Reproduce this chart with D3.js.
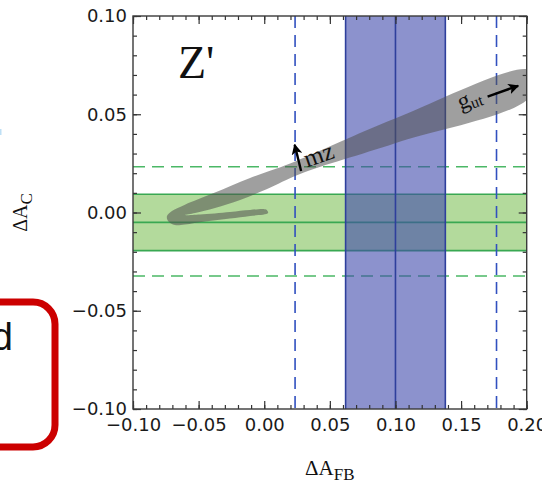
<!DOCTYPE html>
<html>
<head>
<meta charset="utf-8">
<script src="https://cdn.jsdelivr.net/npm/d3@7"></script>
<style>
  html, body { margin: 0; padding: 0; background: #fff; }
  svg { display: block; }
</style>
</head>
<body>
<svg id="chart" width="542" height="485"></svg>
<script>
// Axis ranges and ticks
const xDomain = [-0.10, 0.20];
const yDomain = [-0.10, 0.10];
const xTickValues = [-0.10, -0.05, 0.00, 0.05, 0.10, 0.15, 0.20];
const yTickValues = [-0.10, -0.05, 0.00, 0.05, 0.10];

// Forward-backward asymmetry measurement (vertical bands)
const afbCentral = 0.100;
const afbOneSigma = [0.062, 0.138];
const afbTwoSigma = [0.0235, 0.1770];

// Charge asymmetry measurement (horizontal bands)
const acCentral = -0.0050;
const acOneSigma = [-0.0194, 0.0093];
const acTwoSigma = [-0.0323, 0.0233];

// Z' prediction region: outer boundary (from the low-mass tail, round the turn,
// up along the top of the coupling branch), then inner boundary back to the tail
const zpOuterEdge = [
  [0.0029, -0.0003], [-0.0108, -0.0018], [-0.0261, -0.0031], [-0.0451, -0.0046],
  [-0.0604, -0.0061], [-0.0680, -0.0064], [-0.0733, -0.0043], [-0.0741, -0.0018],
  [-0.0703, 0.0008], [-0.0604, 0.0040], [-0.0390, 0.0098], [-0.0108, 0.0176],
  [0.0197, 0.0250], [0.0997, 0.0479], [0.2027, 0.0723]
];
const zpInnerEdge = [
  [0.2027, 0.0590], [0.0997, 0.0352], [0.0273, 0.0196], [0.0022, 0.0120],
  [-0.0184, 0.0064], [-0.0375, 0.0023], [-0.0527, -0.0003], [-0.0604, -0.0013],
  [-0.0489, -0.0010], [-0.0261, 0.0003], [-0.0108, 0.0013], [0.0014, 0.0015]
];

// Annotation anchors (data units)
const mzArrow = { base: [0.0281, 0.0211], head: [0.0232, 0.0345] };
const mzLabelAt = [0.0275, 0.0217];
const gutLabelAt = [0.1495, 0.0521];
const gutArrow = { base: [0.1702, 0.0590], head: [0.1935, 0.0645] };

const svg = d3.select("#chart");
const pL = 133, pR = 526.7, pT = 16, pB = 409;

const x = d3.scaleLinear().domain(xDomain).range([pL, pR]);
const y = d3.scaleLinear().domain(yDomain).range([pB, pT]);

const defs = svg.append("defs");
defs.append("clipPath").attr("id", "plotClip")
  .append("rect").attr("x", pL).attr("y", pT)
  .attr("width", pR - pL).attr("height", pB - pT);

const plot = svg.append("g").attr("clip-path", "url(#plotClip)");

// --- A_C bands (green)
plot.append("rect")
  .attr("x", pL).attr("width", pR - pL)
  .attr("y", y(acOneSigma[1])).attr("height", y(acOneSigma[0]) - y(acOneSigma[1]))
  .attr("fill", "#b3da9c");
const greenSolid = [acOneSigma[0], acCentral, acOneSigma[1]];
plot.selectAll("line.gs").data(greenSolid).join("line").attr("class", "gs")
  .attr("x1", pL).attr("x2", pR)
  .attr("y1", d => y(d)).attr("y2", d => y(d))
  .attr("stroke", "#39a852").attr("stroke-width", 1.6);
plot.selectAll("line.gd").data(acTwoSigma).join("line").attr("class", "gd")
  .attr("x1", pL).attr("x2", pR)
  .attr("y1", d => y(d)).attr("y2", d => y(d))
  .attr("stroke", "#4bb866").attr("stroke-width", 1.5)
  .attr("stroke-dasharray", "12,7");

// --- A_FB bands (blue)
plot.append("rect")
  .attr("x", x(afbOneSigma[0])).attr("width", x(afbOneSigma[1]) - x(afbOneSigma[0]))
  .attr("y", pT).attr("height", pB - pT)
  .attr("fill", "rgb(63,73,172)").attr("fill-opacity", 0.6);
const blueSolid = [afbOneSigma[0], afbCentral, afbOneSigma[1]];
plot.selectAll("line.bs").data(blueSolid).join("line").attr("class", "bs")
  .attr("y1", pT).attr("y2", pB)
  .attr("x1", d => x(d)).attr("x2", d => x(d))
  .attr("stroke", "#2e3f9c").attr("stroke-width", 1.6);
plot.selectAll("line.bd").data(afbTwoSigma).join("line").attr("class", "bd")
  .attr("y1", pT).attr("y2", pB)
  .attr("x1", d => x(d)).attr("x2", d => x(d))
  .attr("stroke", "#3150bf").attr("stroke-width", 1.6)
  .attr("stroke-dasharray", "12,7");

// --- Z' region (gray)
const region = zpOuterEdge.concat(zpInnerEdge);
plot.append("path")
  .attr("d", d3.line().x(d => x(d[0])).y(d => y(d[1]))
    .curve(d3.curveCatmullRomClosed.alpha(0.5))(region))
  .attr("fill", "rgb(80,80,80)").attr("fill-opacity", 0.55);

// --- Frame and ticks (inward on every side)
const minorX = x.ticks(30), minorY = y.ticks(20);
function styleAxis(g) {
  g.select(".domain").remove();
  g.selectAll(".tick line").attr("stroke", "#333").attr("stroke-width", 1.2);
  g.selectAll("text").attr("font-family", "DejaVu Sans").attr("font-size", 18)
    .attr("fill", "#1a1a1a");
}
svg.append("g").attr("transform", `translate(0,${pB})`)
  .call(d3.axisBottom(x).tickValues(minorX).tickSize(-4).tickFormat(""))
  .call(styleAxis);
svg.append("g").attr("transform", `translate(0,${pB})`)
  .call(d3.axisBottom(x).tickValues(xTickValues).tickSize(-8).tickPadding(9)
    .tickFormat(d3.format(".2f")))
  .call(styleAxis);
svg.append("g").attr("transform", `translate(0,${pT})`)
  .call(d3.axisTop(x).tickValues(minorX).tickSize(-4).tickFormat(""))
  .call(styleAxis);
svg.append("g").attr("transform", `translate(0,${pT})`)
  .call(d3.axisTop(x).tickValues(xTickValues).tickSize(-8).tickFormat(""))
  .call(styleAxis);
svg.append("g").attr("transform", `translate(${pL},0)`)
  .call(d3.axisLeft(y).tickValues(minorY).tickSize(-4).tickFormat(""))
  .call(styleAxis);
svg.append("g").attr("transform", `translate(${pL},0)`)
  .call(d3.axisLeft(y).tickValues(yTickValues).tickSize(-8).tickPadding(6)
    .tickFormat(d3.format(".2f")))
  .call(styleAxis);
svg.append("g").attr("transform", `translate(${pR},0)`)
  .call(d3.axisRight(y).tickValues(minorY).tickSize(-4).tickFormat(""))
  .call(styleAxis);
svg.append("g").attr("transform", `translate(${pR},0)`)
  .call(d3.axisRight(y).tickValues(yTickValues).tickSize(-8).tickFormat(""))
  .call(styleAxis);
svg.append("rect").attr("x", pL).attr("y", pT)
  .attr("width", pR - pL).attr("height", pB - pT)
  .attr("fill", "none").attr("stroke", "#3a3a3a").attr("stroke-width", 1.4);

// --- Panel title
svg.append("text").attr("x", 178).attr("y", 78)
  .attr("font-family", "Liberation Serif").attr("font-size", 46).attr("fill", "#111")
  .text("Z'");

// --- Arrows
defs.append("marker").attr("id", "head")
  .attr("viewBox", "0 0 10 10").attr("refX", 9).attr("refY", 5)
  .attr("markerWidth", 4.5).attr("markerHeight", 4.5).attr("orient", "auto")
  .attr("markerUnits", "strokeWidth")
  .append("path").attr("d", "M0,0 L10,5 L0,10 L2.5,5 Z").attr("fill", "#000");

function arrow(a) {
  svg.append("line")
    .attr("x1", x(a.base[0])).attr("y1", y(a.base[1]))
    .attr("x2", x(a.head[0])).attr("y2", y(a.head[1]))
    .attr("stroke", "#000").attr("stroke-width", 2.4)
    .attr("marker-end", "url(#head)");
}
arrow(mzArrow);
arrow(gutArrow);

svg.append("text")
  .attr("transform", `translate(${x(mzLabelAt[0])},${y(mzLabelAt[1])}) rotate(-19)`)
  .attr("x", 7)
  .attr("font-family", "Liberation Serif").attr("font-size", 25).attr("fill", "#111")
  .text("mz");

const gut = svg.append("text")
  .attr("transform", `translate(${x(gutLabelAt[0])},${y(gutLabelAt[1])}) rotate(-20)`)
  .attr("font-family", "Liberation Serif").attr("font-size", 24).attr("fill", "#111");
gut.append("tspan").text("g");
gut.append("tspan").attr("font-size", 16).attr("dy", 3).text("ut");

// --- Axis titles
const xt = svg.append("text").attr("x", (pL + pR) / 2).attr("y", 475)
  .attr("text-anchor", "middle")
  .attr("font-family", "Liberation Serif").attr("font-size", 21).attr("fill", "#111");
xt.append("tspan").text("ΔA");
xt.append("tspan").attr("font-size", 17).attr("dy", 5).text("FB");

const yt = svg.append("text")
  .attr("transform", `translate(27,${(pT + pB) / 2}) rotate(-90)`)
  .attr("text-anchor", "middle")
  .attr("font-family", "Liberation Serif").attr("font-size", 20).attr("fill", "#111");
yt.append("tspan").text("ΔA");
yt.append("tspan").attr("font-size", 17).attr("dy", 5).text("C");

// --- Callout box at the left edge
svg.append("rect").attr("x", -60).attr("y", 302).attr("width", 115).attr("height", 145)
  .attr("rx", 22).attr("fill", "none").attr("stroke", "#cc0000").attr("stroke-width", 7);
svg.append("text").attr("x", 13).attr("y", 350).attr("text-anchor", "end")
  .attr("font-family", "Liberation Sans").attr("font-size", 38).attr("fill", "#111")
  .text("d");
svg.append("rect").attr("x", 0).attr("y", 129).attr("width", 1.5).attr("height", 6)
  .attr("fill", "#bfe0f5");
</script>
</body>
</html>
